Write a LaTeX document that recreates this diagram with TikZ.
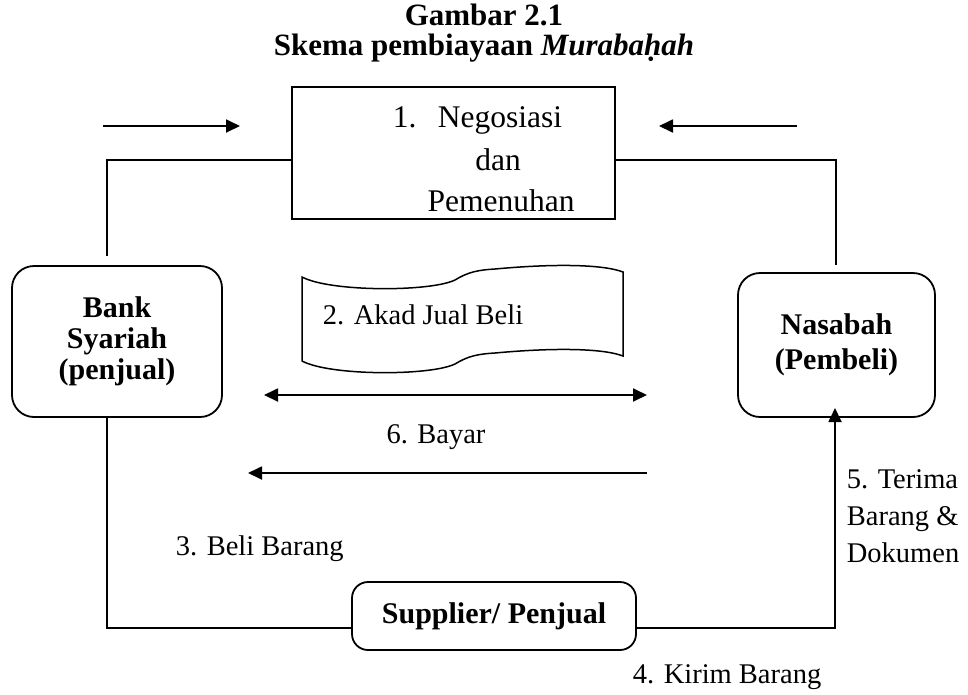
\documentclass[tikz,border=0pt]{standalone}
\usepackage{fontspec}
\setmainfont{Liberation Serif}
\usetikzlibrary{arrows.meta}
\begin{document}
\begin{tikzpicture}[x=1pt,y=-1pt,line width=1.8pt,
  txt/.style={font=\fontsize{28.5}{33}\selectfont, inner sep=0pt},
  ntxt/.style={font=\fontsize{31.5}{36}\selectfont, inner sep=0pt},
  ttl/.style={font=\fontsize{31}{36}\selectfont\bfseries, inner sep=0pt},
  rbox/.style={draw, rounded corners=22pt, align=center, inner sep=0pt},
  arr/.style={-{Triangle[length=14pt,width=13pt]}},
  darr/.style={{Triangle[length=14pt,width=13pt]}-{Triangle[length=14pt,width=13pt]}}
]
\useasboundingbox (0,0) rectangle (968,694);
% title
\node[ttl, anchor=base] (t1) at (484,25) {Gambar 2.1};
\node[ttl, anchor=base] (t2) at (484,55) {Skema pembiayaan \textit{Muraba\d{h}ah}};
% negotiation box
\node[draw, minimum width=323pt, minimum height=132pt, inner sep=0pt] (neg) at (453.5,153) {};
\node[ntxt, anchor=base west] (n1) at (392,127) {1.};
\node[ntxt, anchor=base west] (n2) at (437,127) {Negosiasi};
\node[ntxt, anchor=base] (n3) at (498,170) {dan};
\node[ntxt, anchor=base] (n4) at (501,211) {Pemenuhan};
% parties
\node[rbox, font=\fontsize{30}{31}\selectfont\bfseries, minimum width=210pt, minimum height=151pt] (bank) at (117,341.5) {Bank\\Syariah\\(penjual)};
\node[rbox, font=\fontsize{30}{35}\selectfont\bfseries, minimum width=197pt, minimum height=144pt] (nas) at (836.5,345) {Nasabah\\(Pembeli)};
\node[rbox, font=\fontsize{30}{35}\selectfont\bfseries, rounded corners=16pt, minimum width=284pt, minimum height=68pt] (sup) at (494,616) {Supplier/ Penjual};
% document shape
\draw[line width=1.5pt] (302,277) .. controls (330,292) and (430,292) .. (455,280)
  .. controls (468,272) and (478,270) .. (495,269)
  .. controls (560,263) and (605,265) .. (623,272) -- (623,356)
  .. controls (605,349) and (560,347) .. (495,353)
  .. controls (478,354) and (468,356) .. (455,364)
  .. controls (430,376) and (330,376) .. (302,361) -- cycle;
\node[txt, anchor=base west] (akad) at (322,324) {2. Akad Jual Beli};
% top arrows
\coordinate (a1s) at (103,126); \coordinate (a1e) at (240,126);
\coordinate (a2s) at (797,126); \coordinate (a2e) at (659,126);
\draw[arr] (a1s) -- (a1e);
\draw[arr] (a2s) -- (a2e);
% connectors to negotiation box
\coordinate (lt) at (107,160); \coordinate (lb) at (107,256);
\coordinate (rt) at (836,160); \coordinate (rb) at (836,265);
\draw (lb) -- (lt) -- (lt -| neg.west);
\draw (lt -| neg.east) -- (rt) -- (rb);
% middle arrows
\coordinate (d1) at (264,395); \coordinate (d2) at (647,395);
\draw[darr] (d1) -- (d2);
\node[txt, anchor=base] (bayar) at (436,443) {6. Bayar};
\coordinate (b1) at (647,473); \coordinate (b2) at (248,473);
\draw[arr] (b1) -- (b2);
\node[txt, anchor=base west] (beli) at (175,555) {3. Beli Barang};
% bottom connectors
\coordinate (lbot) at (107,628); \coordinate (rbot) at (835,628);
\coordinate (rtip) at (835,408);
\draw (lbot |- bank.south) -- (lbot) -- (lbot -| sup.west);
\draw[arr] (rbot -| sup.east) -- (rbot) -- (rtip);
% labels
\node[txt, anchor=base west] (ter1) at (846,488) {5. Terima};
\node[txt, anchor=base west] (ter2) at (846,525) {Barang \&};
\node[txt, anchor=base west] (ter3) at (846,562) {Dokumen};
\node[txt, anchor=base west] (kirim) at (632,683) {4. Kirim Barang};
\end{tikzpicture}
\end{document}
